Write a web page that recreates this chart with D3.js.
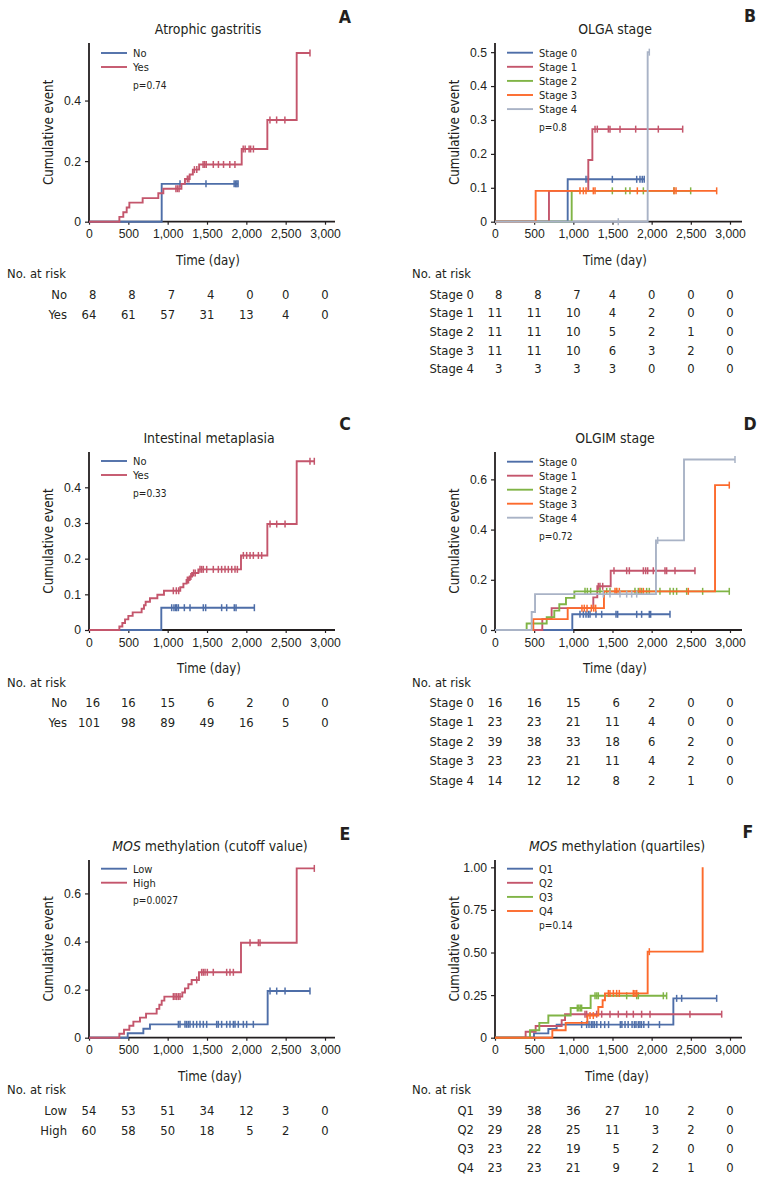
<!DOCTYPE html>
<html><head><meta charset="utf-8">
<script src="https://cdn.jsdelivr.net/npm/d3@7/dist/d3.min.js"></script>
<style>
body{margin:0;background:#fff}
svg text{fill:#231f20}
</style></head><body><svg id="c" width="763" height="1187"></svg>
<script>
// ---------------- DATA ----------------
const timeTicks = [0,500,1000,1500,2000,2500,3000];
const timeTickLabels = ["0","500","1,000","1,500","2,000","2,500","3,000"];

// Panel A: Atrophic gastritis
const agNoSteps = [[924,0.125]];
const agNoCens = [1157,1487,1845,1865,1880,1895];
const agYesSteps = [[386,0.016],[436,0.031],[479,0.047],[513,0.063],[682,0.078],[881,0.094],[945,0.109],[1175,0.125],[1220,0.141],[1280,0.156],[1320,0.172],[1400,0.189],[1941,0.240],[2267,0.336],[2640,0.557]];
const agYesCens = [1105,1125,1145,1250,1270,1340,1370,1450,1470,1490,1580,1645,1710,1790,1855,1960,1985,2035,2055,2090,2300,2385,2490,2809];
const agRiskNo = [8,8,7,4,0,0,0];
const agRiskYes = [64,61,57,31,13,4,0];

// Panel B: OLGA stage
const olgaS0Steps = [[928,0.125]];
const olgaS0Cens = [1162,1191,1498,1809,1851,1880,1905];
const olgaS1Steps = [[689,0.091],[1191,0.182],[1243,0.273]];
const olgaS1Cens = [1277,1306,1447,1468,1596,1796,2085,2396];
const olgaS2Steps = [[979,0.091]];
const olgaS2Cens = [1498,1668,1723,1894,2285,2498];
const olgaS3Steps = [[519,0.091]];
const olgaS3Cens = [1085,1128,1162,1255,1277,1817,2285,2311,2830];
const olgaS4Steps = [[1949,0.5]];
const olgaS4Cens = [1574,1970];
const olgaRisk0 = [8,8,7,4,0,0,0];
const olgaRisk1 = [11,11,10,4,2,0,0];
const olgaRisk2 = [11,11,10,5,2,1,0];
const olgaRisk3 = [11,11,10,6,3,2,0];
const olgaRisk4 = [3,3,3,3,0,0,0];

// Panel C: Intestinal metaplasia
const imNoSteps = [[919,0.0625]];
const imNoCens = [1051,1080,1102,1114,1136,1212,1284,1453,1483,1686,1750,1847,1869,2102];
const imYesSteps = [[386,0.0099],[424,0.0198],[458,0.0297],[500,0.0396],[555,0.0495],[669,0.0594],[699,0.0693],[720,0.0792],[775,0.089],[869,0.099],[953,0.11],[1160,0.12],[1200,0.13],[1240,0.14],[1280,0.15],[1310,0.16],[1390,0.17],[1932,0.209],[2267,0.297],[2640,0.473]];
const imYesCens = [1072,1110,1140,1250,1265,1295,1330,1350,1411,1432,1453,1496,1580,1644,1686,1729,1771,1814,1856,1886,1962,2004,2047,2089,2153,2195,2301,2386,2492,2809,2864];
const imRiskNo = [16,16,15,6,2,0,0];
const imRiskYes = [101,98,89,49,16,5,0];

// Panel D: OLGIM stage
const olgimS0Steps = [[987,0.0625]];
const olgimS0Cens = [1085,1128,1162,1191,1213,1289,1362,1545,1566,1809,1872,1970,1987,2234];
const olgimS1Steps = [[604,0.0435],[723,0.087],[1255,0.13],[1306,0.174],[1477,0.236]];
const olgimS1Cens = [1319,1340,1375,1519,1681,1715,1894,1923,1949,2021,2170,2191,2298,2553];
const olgimS2Steps = [[404,0.0256],[660,0.0513],[757,0.077],[821,0.1026],[906,0.128],[1013,0.154]];
const olgimS2Cens = [1149,1179,1221,1340,1426,1468,1553,1787,1830,1872,1936,1970,2106,2234,2277,2319,2447,2651,2991];
const olgimS3Steps = [[489,0.0435],[928,0.087],[1391,0.154],[2809,0.577]];
const olgimS3Cens = [1110,1140,1175,1230,1260,1285,1532,1553,1587,1851,1894,2468,2991];
const olgimS4Steps = [[468,0.0714],[511,0.143],[2055,0.357],[2413,0.679]];
const olgimS4Cens = [1383,1468,1596,1681,1745,1809,2077,3064];
const olgimRisk0 = [16,16,15,6,2,0,0];
const olgimRisk1 = [23,23,21,11,4,0,0];
const olgimRisk2 = [39,38,33,18,6,2,0];
const olgimRisk3 = [23,23,21,11,4,2,0];
const olgimRisk4 = [14,12,12,8,2,1,0];

// Panel E: MOS methylation (cutoff)
const mosLowSteps = [[492,0.0185],[691,0.037],[775,0.0556],[2271,0.194]];
const mosLowCens = [1136,1157,1220,1241,1263,1284,1326,1369,1411,1453,1496,1623,1644,1686,1750,1792,1835,1856,1898,1962,2004,2089,2301,2386,2492,2809];
const mosHighSteps = [[386,0.0167],[445,0.0333],[513,0.05],[564,0.0667],[648,0.0833],[725,0.1],[860,0.12],[894,0.137],[924,0.154],[958,0.171],[1186,0.188],[1220,0.205],[1263,0.222],[1305,0.24],[1398,0.272],[1932,0.395],[2640,0.704]];
const mosHighCens = [1072,1093,1114,1136,1157,1369,1432,1453,1475,1504,1580,1750,1792,1835,2047,2153,2174,2864];
const mosRiskLow = [54,53,51,34,12,3,0];
const mosRiskHigh = [60,58,50,18,5,2,0];

// Panel F: MOS methylation (quartiles)
const mosQ1Steps = [[498,0.0256],[681,0.0513],[787,0.077],[2277,0.231]];
const mosQ1Cens = [1106,1170,1200,1230,1250,1270,1300,1350,1400,1450,1600,1620,1660,1700,1750,1780,1800,1830,1850,1870,1900,1960,2100,2319,2383,2830];
const mosQ2Steps = [[391,0.0345],[519,0.069],[851,0.103],[894,0.138]];
const mosQ2Cens = [1149,1170,1298,1362,1468,1574,1681,1766,1872,1979,2489,2894];
const mosQ3Steps = [[447,0.0435],[566,0.087],[681,0.13],[966,0.174],[1221,0.246]];
const mosQ3Cens = [1051,1070,1090,1106,1277,1300,1319,1681,1809,1830,2149,2191];
const mosQ4Steps = [[732,0.0435],[902,0.087],[1179,0.13],[1319,0.18],[1374,0.22],[1404,0.26],[1949,0.505],[2651,1.0]];
const mosQ4Cens = [1213,1255,1447,1468,1511,1553,1587,1766,1787,1809,1970];
const mosRiskQ1 = [39,38,36,27,10,2,0];
const mosRiskQ2 = [29,28,25,11,3,2,0];
const mosRiskQ3 = [23,22,19,5,2,0,0];
const mosRiskQ4 = [23,23,21,9,2,1,0];

// ---------------- STYLE / LAYOUT ----------------
const C = {blue:"#4e6ea8", red:"#c4566c", green:"#80b446", orange:"#fc6a2c", gray:"#a9b3c6"};
const svg = d3.select("#c");

function fontAvailable(name){
  const t = svg.append("text").attr("x",-1000).attr("y",-1000).style("font-size","40px").text("Cumulative event 0123");
  t.style("font-family",`"${name}", monospace`);
  const w1 = t.node().getComputedTextLength();
  t.style("font-family","monospace");
  const w2 = t.node().getComputedTextLength();
  t.remove();
  return Math.abs(w1-w2)>0.5;
}
let FONT = '"DejaVu Sans Condensed", Roboto, sans-serif';
let S = {tick:12.2, axisTitle:13.2, title:13.9, letter:17.6, legend:11, p:10.1, risk:12.9};
if (fontAvailable("Liberation Sans Narrow")) {
  FONT = '"Liberation Sans Narrow"';
  S = {tick:13.5, axisTitle:15.5, title:16.5, letter:20, legend:12.5, p:11.5, risk:14.5};
}
svg.style("font-family", FONT);
const px = v => v + "px";

const panels = [
 {letter:"A", lx:345, ly:22.5, title:[["Atrophic gastritis",false]], tx:208,
  ax:89, xPer:0.07867, axEnd:335, yBase:221.7, yTop:43, yMax:0.59,
  yTicks:[0,0.2,0.4], yLabels:["0","0.2","0.4"],
  groups:[["No",C.blue,agNoSteps,agNoCens,agRiskNo],["Yes",C.red,agYesSteps,agYesCens,agRiskYes]],
  leg0:10, legSp:14, pOff:42, pText:"p=0.74", riskSp:20, rowLabelX:67, riskTitleX:7},
 {letter:"B", lx:750, ly:22, title:[["OLGA stage",false]], tx:615,
  ax:495, xPer:0.07833, axEnd:742, yBase:221.7, yTop:43, yMax:0.527,
  yTicks:[0,0.1,0.2,0.3,0.4,0.5], yLabels:["0","0.1","0.2","0.3","0.4","0.5"],
  groups:[["Stage 0",C.blue,olgaS0Steps,olgaS0Cens,olgaRisk0],["Stage 1",C.red,olgaS1Steps,olgaS1Cens,olgaRisk1],
          ["Stage 2",C.green,olgaS2Steps,olgaS2Cens,olgaRisk2],["Stage 3",C.orange,olgaS3Steps,olgaS3Cens,olgaRisk3],
          ["Stage 4",C.gray,olgaS4Steps,olgaS4Cens,olgaRisk4]],
  leg0:9.7, legSp:14.1, pOff:84, pText:"p=0.8", riskSp:18.6, rowLabelX:474, riskTitleX:412},
 {letter:"C", lx:345, ly:429.5, title:[["Intestinal metaplasia",false]], tx:209,
  ax:89, xPer:0.07867, axEnd:335, yBase:630, yTop:452, yMax:0.499,
  yTicks:[0,0.1,0.2,0.3,0.4], yLabels:["0","0.1","0.2","0.3","0.4"],
  groups:[["No",C.blue,imNoSteps,imNoCens,imRiskNo],["Yes",C.red,imYesSteps,imYesCens,imRiskYes]],
  leg0:9, legSp:14, pOff:41, pText:"p=0.33", riskSp:20, rowLabelX:67, riskTitleX:7},
 {letter:"D", lx:750, ly:429.5, title:[["OLGIM stage",false]], tx:615,
  ax:495, xPer:0.07833, axEnd:742, yBase:630, yTop:452, yMax:0.709,
  yTicks:[0,0.2,0.4,0.6], yLabels:["0","0.2","0.4","0.6"],
  groups:[["Stage 0",C.blue,olgimS0Steps,olgimS0Cens,olgimRisk0],["Stage 1",C.red,olgimS1Steps,olgimS1Cens,olgimRisk1],
          ["Stage 2",C.green,olgimS2Steps,olgimS2Cens,olgimRisk2],["Stage 3",C.orange,olgimS3Steps,olgimS3Cens,olgimRisk3],
          ["Stage 4",C.gray,olgimS4Steps,olgimS4Cens,olgimRisk4]],
  leg0:9.7, legSp:14, pOff:83.7, pText:"p=0.72", riskSp:19.4, rowLabelX:474, riskTitleX:412},
 {letter:"E", lx:345, ly:839.5, title:[["MOS",true],[" methylation (cutoff value)",false]], tx:210,
  ax:89, xPer:0.07867, axEnd:335, yBase:1037.7, yTop:860, yMax:0.739,
  yTicks:[0,0.2,0.4,0.6], yLabels:["0","0.2","0.4","0.6"],
  groups:[["Low",C.blue,mosLowSteps,mosLowCens,mosRiskLow],["High",C.red,mosHighSteps,mosHighCens,mosRiskHigh]],
  leg0:8.7, legSp:14, pOff:40, pText:"p=0.0027", riskSp:20, rowLabelX:67, riskTitleX:7},
 {letter:"F", lx:748, ly:838, title:[["MOS",true],[" methylation (quartiles)",false]], tx:617,
  ax:495, xPer:0.07833, axEnd:742, yBase:1037.7, yTop:860, yMax:1.043,
  yTicks:[0,0.25,0.5,0.75,1], yLabels:["0","0.25","0.50","0.75","1.00"],
  groups:[["Q1",C.blue,mosQ1Steps,mosQ1Cens,mosRiskQ1],["Q2",C.red,mosQ2Steps,mosQ2Cens,mosRiskQ2],
          ["Q3",C.green,mosQ3Steps,mosQ3Cens,mosRiskQ3],["Q4",C.orange,mosQ4Steps,mosQ4Cens,mosRiskQ4]],
  leg0:8.7, legSp:14.1, pOff:65, pText:"p=0.14", riskSp:19.1, rowLabelX:474, riskTitleX:412}
];

function valueAt(steps, t){
  let v = 0;
  for (const [st, sv] of steps) if (st <= t) v = sv;
  return v;
}

panels.forEach(p => {
  const g = svg.append("g");
  const dEnd = (p.axEnd - p.ax)/p.xPer;
  const x = d3.scaleLinear().domain([0, dEnd]).range([p.ax, p.axEnd]);
  const y = d3.scaleLinear().domain([0, p.yMax]).range([p.yBase, p.yTop]);

  // axes (drawn first, curves overlay them)
  const xa = g.append("g").attr("transform",`translate(0,${p.yBase})`)
    .call(d3.axisBottom(x).tickValues(timeTicks).tickFormat((d,i)=>timeTickLabels[i]).tickSizeInner(3).tickSizeOuter(0).tickPadding(5));
  const ya = g.append("g").attr("transform",`translate(${p.ax},0)`)
    .call(d3.axisLeft(y).tickValues(p.yTicks).tickFormat((d,i)=>p.yLabels[i]).tickSizeInner(4).tickSizeOuter(0).tickPadding(4));
  [xa,ya].forEach(a => {
    a.select(".domain").attr("stroke","#231f20").attr("stroke-width",1.8);
    a.selectAll(".tick line").attr("stroke","#231f20").attr("stroke-width",1.2);
    a.selectAll("text").attr("font-family",null).style("font-size",px(S.tick)).attr("fill","#231f20");
  });
  ya.select(".domain").attr("d",`M0,${p.yBase+0.9}V${p.yTop}`);
  xa.select(".domain").attr("d",`M${p.ax-0.9},0H${p.axEnd}`);

  // curves
  const line = d3.line().x(d=>x(d[0])).y(d=>y(d[1]));
  p.groups.forEach(([name,col,steps,cens]) => {
    const pts = [[0,0]];
    let prev = 0;
    steps.forEach(([t,v]) => { pts.push([t,prev]); pts.push([t,v]); prev = v; });
    const tEnd = Math.max(steps[steps.length-1][0], ...(cens.length?cens:[0]));
    pts.push([tEnd, prev]);
    g.append("path").attr("d", line(pts)).attr("fill","none").attr("stroke",col).attr("stroke-width",1.9);
    g.append("g").selectAll("line").data(cens).join("line")
      .attr("x1", d=>x(d)).attr("x2", d=>x(d))
      .attr("y1", d=>y(valueAt(steps,d))-3.5).attr("y2", d=>y(valueAt(steps,d))+3.5)
      .attr("stroke",col).attr("stroke-width",1.5);
  });

  // y label
  g.append("text").attr("transform",`translate(${p.ax-41},${(p.yBase+p.yTop)/2}) rotate(-90)`)
    .attr("text-anchor","middle").attr("dy","0.35em").style("font-size",px(S.axisTitle)).text("Cumulative event");
  // x label
  g.append("text").attr("x",p.tx).attr("y",p.yBase+43).attr("text-anchor","middle").style("font-size",px(S.axisTitle)).text("Time (day)");
  // title
  const tt = g.append("text").attr("x",p.tx).attr("y",p.yTop-9).attr("text-anchor","middle").style("font-size",px(S.title));
  p.title.forEach(([s,it]) => tt.append("tspan").style("font-style",it?"italic":"normal").text(s));
  // letter
  g.append("text").attr("x",p.lx).attr("y",p.ly).attr("text-anchor","middle").style("font-size",px(S.letter)).style("font-weight","bold").text(p.letter);

  // legend
  p.groups.forEach(([name,col],i) => {
    const ly = p.yTop + p.leg0 + i*p.legSp;
    g.append("line").attr("x1",p.ax+12).attr("x2",p.ax+38).attr("y1",ly).attr("y2",ly).attr("stroke",col).attr("stroke-width",1.9);
    g.append("text").attr("x",p.ax+44).attr("y",ly+4).style("font-size",px(S.legend)).text(name);
  });
  g.append("text").attr("x",p.ax+44).attr("y",p.yTop+p.pOff+4).style("font-size",px(S.p)).text(p.pText);

  // risk table
  g.append("text").attr("x",p.riskTitleX).attr("y",p.yBase+56.5).style("font-size",px(S.risk)).text("No. at risk");
  const rows = p.groups.map(gr=>gr[4]);
  p.groups.forEach(([name],i) => {
    g.append("text").attr("x",p.rowLabelX).attr("y",p.yBase+77+i*p.riskSp).attr("text-anchor","end").style("font-size",px(S.risk)).text(name);
  });
  timeTicks.forEach((t,j) => {
    const texts = rows.map((r,i) => g.append("text").attr("y",p.yBase+77+i*p.riskSp).attr("text-anchor","end").style("font-size",px(S.risk)).text(r[j]));
    const maxW = d3.max(texts, tx => tx.node().getComputedTextLength());
    texts.forEach(tx => tx.attr("x", x(t) + maxW/2));
  });
});
</script></body></html>
